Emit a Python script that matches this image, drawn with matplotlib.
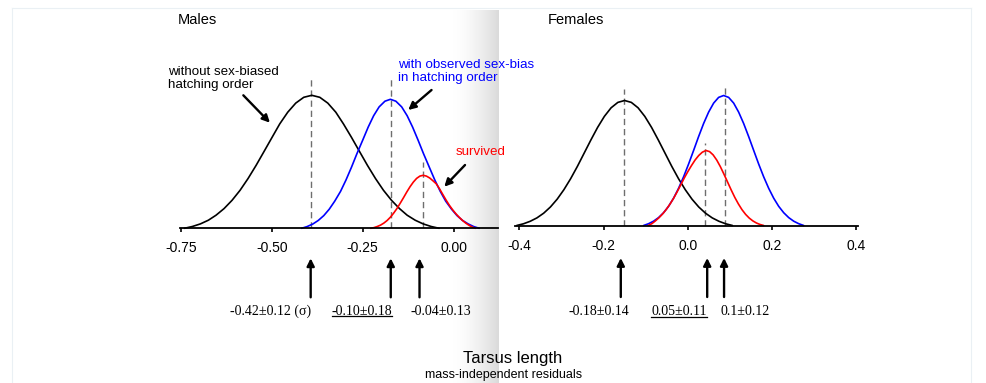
import matplotlib.pyplot as plt
import numpy as np
from matplotlib.colors import LinearSegmentedColormap
from matplotlib.lines import Line2D

W, H = 986, 383
plt.rcParams['font.family'] = ['Liberation Sans', 'DejaVu Sans']

# ---- data (y = curve height, arbitrary units) ----
titles = ['Males', 'Females']

males_none_x = [-0.74, -0.718, -0.696, -0.674, -0.653, -0.631, -0.609, -0.587, -0.565,
                -0.543, -0.521, -0.499, -0.478, -0.456, -0.434, -0.412, -0.39,
                -0.368, -0.346, -0.324, -0.303, -0.281, -0.259, -0.237, -0.215,
                -0.193, -0.171, -0.149, -0.128, -0.106, -0.084, -0.062, -0.04]
males_none_y = [0, 1.8, 4.4, 8.1, 13.1, 19.7, 28.0, 38.0, 49.8, 62.9, 76.9, 91.0, 104.4,
                116.1, 125.2, 131.0, 133, 131.0, 125.2, 116.1, 104.4, 91.0, 76.9, 62.9,
                49.8, 38.0, 28.0, 19.7, 13.1, 8.1, 4.4, 1.8, 0]
males_obs_x = [-0.418, -0.403, -0.387, -0.372, -0.357, -0.342, -0.327, -0.311, -0.296,
               -0.281, -0.266, -0.250, -0.235, -0.220, -0.205, -0.189, -0.174,
               -0.159, -0.143, -0.128, -0.113, -0.098, -0.083, -0.067, -0.052,
               -0.037, -0.022, -0.006, 0.009, 0.024, 0.040, 0.055, 0.070]
males_obs_y = [0, 1.7, 4.3, 7.9, 12.7, 19.1, 27.1, 36.9, 48.3, 61.0, 74.6, 88.2, 101.2,
               112.6, 121.4, 127.1, 129, 127.1, 121.4, 112.6, 101.2, 88.2, 74.6, 61.0,
               48.3, 36.9, 27.1, 19.1, 12.7, 7.9, 4.3, 1.7, 0]
males_surv_x = [-0.228, -0.219, -0.21, -0.201, -0.192, -0.183, -0.174, -0.165, -0.156,
                -0.147, -0.138, -0.129, -0.12, -0.111, -0.102, -0.093, -0.084,
                -0.075, -0.066, -0.057, -0.048, -0.039, -0.03, -0.021, -0.012,
                -0.003, 0.006, 0.015, 0.024, 0.033, 0.042, 0.051, 0.06]
males_surv_y = [0, 0.7, 1.8, 3.2, 5.2, 7.8, 11.1, 15.2, 19.8, 25.1, 30.6, 36.3, 41.6,
                46.2, 49.9, 52.2, 53, 52.2, 50.3, 47.5, 44.5, 39.5, 33.8, 28.2,
                23.0, 18.5, 14.5, 11.0, 7.9, 5.2, 3.0, 1.2, 0]

females_none_x = [-0.406, -0.39, -0.374, -0.358, -0.342, -0.326, -0.31, -0.294, -0.278,
                  -0.262, -0.246, -0.23, -0.214, -0.198, -0.182, -0.166, -0.15,
                  -0.134, -0.118, -0.102, -0.086, -0.07, -0.054, -0.038, -0.022,
                  -0.006, 0.01, 0.026, 0.042, 0.058, 0.074, 0.09, 0.106]
females_none_y = [0, 1.7, 4.2, 7.6, 12.3, 18.5, 26.3, 35.8, 46.8, 59.1, 72.3, 85.5, 98.1,
                  109.1, 117.7, 123.1, 125, 123.1, 117.7, 109.1, 98.1, 85.5, 72.3, 59.1,
                  46.8, 35.8, 26.3, 18.5, 12.3, 7.6, 4.2, 1.7, 0]
females_obs_x = [-0.105, -0.0931, -0.0813, -0.0694, -0.0575, -0.0456, -0.0338, -0.0219,
                 -0.01, 0.0019, 0.0138, 0.0256, 0.0375, 0.0494, 0.0613, 0.0731, 0.085,
                 0.0969, 0.1088, 0.1206, 0.1325, 0.1444, 0.1563, 0.1681, 0.18,
                 0.1919, 0.2038, 0.2156, 0.2275, 0.2394, 0.2513, 0.2631, 0.275]
females_obs_y = [0, 1.8, 4.3, 7.9, 12.8, 19.2, 27.3, 37.2, 48.7, 61.5, 75.1, 88.9, 102.0,
                 113.4, 122.4, 128.1, 130, 128.1, 122.4, 113.4, 102.0, 88.9, 75.1, 61.5,
                 48.7, 37.2, 27.3, 19.2, 12.8, 7.9, 4.3, 1.8, 0]
females_surv_x = [-0.094, -0.0854, -0.0769, -0.0683, -0.0597, -0.0512, -0.0426, -0.034,
                  -0.0255, -0.0169, -0.0084, 0.0002, 0.0088, 0.0173, 0.0259, 0.0344, 0.043,
                  0.0516, 0.0601, 0.0687, 0.0773, 0.0858, 0.0944, 0.103, 0.1115,
                  0.1201, 0.1286, 0.1372, 0.1458, 0.1543, 0.1629, 0.1714, 0.18]
females_surv_y = [0, 1.8, 4.6, 7.8, 11.6, 16.0, 21.2, 27.0, 33.5, 40.5, 47.5, 54.0, 60.0,
                  65.5, 70.0, 73.3, 75, 73.9, 70.6, 65.4, 58.8, 51.3, 43.4, 35.5,
                  28.1, 21.5, 15.8, 11.1, 7.4, 4.6, 2.5, 1.0, 0]

# dashed lines at the peaks (x, top)
males_peak_x = [-0.392, -0.173, -0.085]
males_peak_top = [149, 149, 66]
females_peak_x = [-0.152, 0.088, 0.041]
females_peak_top = [137, 141, 83]

# arrows under the axis and their mean +- sd labels
males_arrow_x = [-0.393, -0.173, -0.094]
females_arrow_x = [-0.159, 0.046, 0.086]
males_labels = ['-0.42\u00b10.12 (\u03c3)', '-0.10\u00b10.18', '-0.04\u00b10.13']
females_labels = ['-0.18\u00b10.14', '0.05\u00b10.11', '0.1\u00b10.12']
underlined = [False, True, False]

males_ticks = [-0.75, -0.50, -0.25, 0.00]
males_ticklabels = ['-0.75', '-0.50', '-0.25', '0.00']
females_ticks = [-0.4, -0.2, 0.0, 0.2, 0.4]
females_ticklabels = ['-0.4', '-0.2', '0.0', '0.2', '0.4']

fig = plt.figure(figsize=(W / 100, H / 100), dpi=100)

# page-fold shading between the two halves
band = fig.add_axes([452 / W, 0, 46 / W, 373 / H])
band.axis('off')
grad = np.linspace(0, 1, 200) ** 1.6
cmap = LinearSegmentedColormap.from_list('fold', ['#ffffff', '#dadada'])
band.imshow(grad[None, :], aspect='auto', cmap=cmap, extent=[0, 1, 0, 1])

# faint frame of the original scan
for xs, ys in [([12, 12], [8, 383]), ([971, 971], [8, 383]), ([12, 971], [8, 8])]:
    fig.add_artist(Line2D([x / W for x in xs], [1 - y / H for y in ys],
                          color='#eaf0f4', lw=0.8))

axL = fig.add_axes([180 / W, (H - 228.3) / H, 318 / W, 160 / H])
axR = fig.add_axes([515 / W, (H - 225.5) / H, 343 / W, 160 / H])

panels = [
    (axL, (-0.752, 0.1216), males_ticks, males_ticklabels,
     [(males_none_x, males_none_y), (males_obs_x, males_obs_y), (males_surv_x, males_surv_y)],
     males_peak_x, males_peak_top, males_arrow_x, males_labels,
     [-0.502, -0.252, -0.035], -83),
    (axR, (-0.41, 0.4038), females_ticks, females_ticklabels,
     [(females_none_x, females_none_y), (females_obs_x, females_obs_y), (females_surv_x, females_surv_y)],
     females_peak_x, females_peak_top, females_arrow_x, females_labels,
     [-0.211, -0.021, 0.135], -86),
]
colors = ['black', 'blue', 'red']
arrow_kw = dict(arrowstyle='-|>', color='black', lw=1.7, mutation_scale=11,
                shrinkA=0, shrinkB=0)

label_texts = []
for ax, xlim, ticks, ticklabels, curves, px, ptop, ax_x, labs, lab_x, lab_y in panels:
    ax.set_facecolor('none')
    ax.set_xlim(*xlim)
    ax.set_ylim(0, 160)
    for s in ['top', 'left', 'right']:
        ax.spines[s].set_visible(False)
    ax.spines['bottom'].set_linewidth(1.3)
    ax.set_yticks([])
    ax.set_xticks(ticks)
    ax.set_xticklabels(ticklabels)
    ax.tick_params(axis='x', direction='out', length=3, width=1.2, pad=6.5, labelsize=10)

    for (cx, cy), c in zip(curves, colors):
        ax.plot(cx, cy, color=c, lw=1.2, solid_capstyle='round', solid_joinstyle='round',
                clip_on=False)
    for x, top in zip(px, ptop):
        ax.plot([x, x], [0, top], color='#6e6e6e', lw=1.0, dashes=(4.5, 2.8), zorder=1)

    off = -30 if ax is axL else -32.5
    for x in ax_x:
        ax.annotate('', xy=(x, off), xytext=(x, off - 39), arrowprops=arrow_kw,
                    annotation_clip=False)
    for s, x, u in zip(labs, lab_x, underlined):
        t = ax.text(x, lab_y, s, ha='center', va='center', fontsize=10,
                    family=['Liberation Serif', 'DejaVu Serif'], clip_on=False)
        if u:
            label_texts.append(t)

axL.text(-0.757, 208, titles[0], fontsize=10.5, ha='left', va='center', clip_on=False)
axR.text(-0.332, 205.5, titles[1], fontsize=10.5, ha='left', va='center', clip_on=False)

axL.text(-0.785, 150, 'without sex-biased\nhatching order', ha='left', va='center',
         fontsize=9.6, linespacing=1.15, clip_on=False)
axL.annotate('', xy=(-0.505, 105.6), xytext=(-0.578, 133), arrowprops=arrow_kw,
             annotation_clip=False)
axL.text(-0.153, 157, 'with observed sex-bias\nin hatching order', color='blue',
         ha='left', va='center', fontsize=9.6, linespacing=1.15, clip_on=False, zorder=5)
axL.annotate('', xy=(-0.125, 118.3), xytext=(-0.061, 138.3), arrowprops=arrow_kw,
             annotation_clip=False)
axL.text(0.004, 76, 'survived', color='red', ha='left', va='center', fontsize=9.6,
         clip_on=False, zorder=5)
axL.annotate('', xy=(-0.026, 41.6), xytext=(0.031, 63.3), arrowprops=arrow_kw,
             annotation_clip=False)

fig.text(513 / W, 1 - 358 / H, 'Tarsus length', ha='center', va='center', fontsize=12)
fig.text(504 / W, 1 - 375 / H, 'mass-independent residuals', ha='center', va='center',
         fontsize=9)

# underline the observed means
fig.canvas.draw()
r = fig.canvas.get_renderer()
for t in label_texts:
    bb = t.get_window_extent(r)
    p0 = fig.transFigure.inverted().transform((bb.x0, bb.y0 + 1.5))
    p1 = fig.transFigure.inverted().transform((bb.x1, bb.y0 + 1.5))
    fig.add_artist(Line2D([p0[0], p1[0]], [p0[1], p1[1]], color='black', lw=0.9))

fig.savefig('out.png', dpi=100)
